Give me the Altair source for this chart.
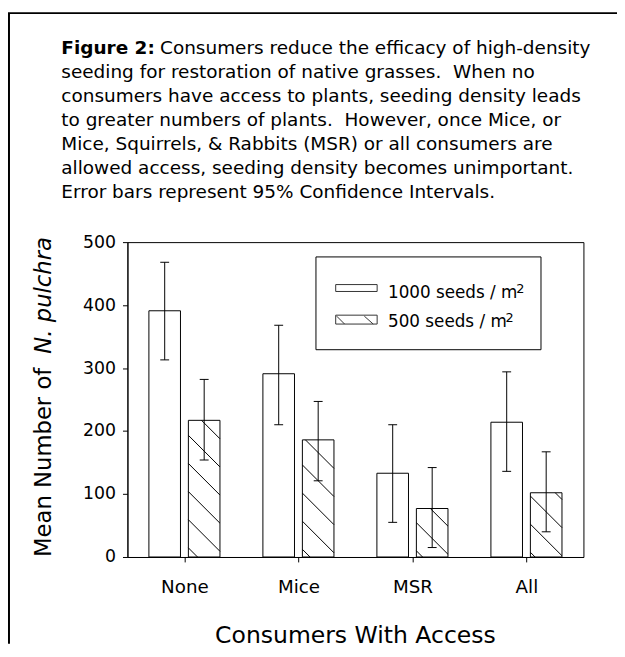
import math
import altair as alt
import pandas as pd

# ---------------- data ----------------
categories = ["None", "Mice", "MSR", "All"]
series_labels = ["1000 seeds / m", "500 seeds / m"]
mean_1000 = [391, 291, 133, 214]
lo_1000 = [313, 210, 55, 136]
hi_1000 = [468, 368, 210, 294]
mean_500 = [217, 186, 77, 102]
lo_500 = [154, 121, 15, 40]
hi_500 = [282, 247, 142, 167]
y_ticks = [0, 100, 200, 300, 400, 500]

caption_bold = "Figure 2:"
caption_first = "Consumers reduce the efficacy of high-density"
caption_lines = [
    "seeding for restoration of native grasses. \u00a0When no",
    "consumers have access to plants, seeding density leads",
    "to greater numbers of plants. \u00a0However, once Mice, or",
    "Mice, Squirrels, & Rabbits (MSR) or all consumers are",
    "allowed access, seeding density becomes unimportant.",
    "Error bars represent 95% Confidence Intervals.",
]
x_title = "Consumers With Access"
y_title_plain = "Mean Number of"
y_title_italic = "N. pulchra"

# ---------------- layout constants ----------------
FONT = "DejaVu Sans"
W, H = 462, 319
YMAX = 500
XMAX = len(categories)
PX_X = W / XMAX
PX_Y = H / YMAX
BAR_OUT = 36 / PX_X
BAR_IN = 4 / PX_X
CAP = 4.5 / PX_X

rows = []
for i, cat in enumerate(categories):
    c = i + 0.5
    rows.append(dict(cat=cat, series="1000", v=mean_1000[i], lo=lo_1000[i], hi=hi_1000[i],
                     u0=c - BAR_OUT, u1=c - BAR_IN))
    rows.append(dict(cat=cat, series="500", v=mean_500[i], lo=lo_500[i], hi=hi_500[i],
                     u0=c + BAR_IN, u1=c + BAR_OUT))
bars = pd.DataFrame(rows)
bars["uc"] = (bars["u0"] + bars["u1"]) / 2
bars["zero"] = 0

caps = []
for r in rows:
    uc = (r["u0"] + r["u1"]) / 2
    for yv in (r["lo"], r["hi"]):
        caps.append(dict(u0=uc - CAP, u1=uc + CAP, v=yv))
caps = pd.DataFrame(caps)

# hatch lines (45 deg in screen space) clipped to the 500-seed bars
STEP, PHASE = 28.5, 20.0
hatch = []
for r in rows:
    if r["series"] != "500":
        continue
    X0, X1 = r["u0"] * PX_X, r["u1"] * PX_X
    Yt, Yb = H - r["v"] * PX_Y, H
    cmin, cmax = Yt - X1, Yb - X0
    k = math.ceil((cmin - PHASE) / STEP)
    while PHASE + k * STEP <= cmax:
        cc = PHASE + k * STEP
        xa = max(X0, Yt - cc)
        xb = min(X1, Yb - cc)
        if xb - xa > 0.5:
            hatch.append(dict(u0=xa / PX_X, v0=(H - (xa + cc)) / PX_Y,
                              u1=xb / PX_X, v1=(H - (xb + cc)) / PX_Y))
        k += 1
hatch = pd.DataFrame(hatch)

one = alt.Data(values=[{"a": 1}])

xscale = alt.Scale(domain=[0, XMAX], nice=False, zero=False)
yscale = alt.Scale(domain=[0, YMAX], nice=False)

label_expr = "[" + ",".join("'%s'" % c for c in categories) + "][floor(datum.value)]"
xaxis = alt.Axis(values=[i + 0.5 for i in range(XMAX)], labelExpr=label_expr, title=None,
                 grid=False, tickSize=5, labelPadding=16, labelFont=FONT, labelFontSize=18.5,
                 labelColor="black", domainColor="black", tickColor="black", labelAngle=0)
yaxis = alt.Axis(values=y_ticks, title=None, grid=False, tickSize=5, labelPadding=7,
                 labelFont=FONT, labelFontSize=17.5, labelColor="black",
                 domainColor="black", tickColor="black")

bar_layer = alt.Chart(bars).mark_rect(fill="white", stroke="black", strokeWidth=1).encode(
    x=alt.X("u0:Q", scale=xscale, axis=xaxis),
    x2="u1:Q",
    y=alt.Y("v:Q", scale=yscale, axis=yaxis),
    y2="zero:Q",
)

hatch_layer = alt.Chart(hatch).mark_rule(color="black", strokeWidth=1).encode(
    x=alt.X("u0:Q", scale=xscale, axis=xaxis), x2="u1:Q",
    y=alt.Y("v0:Q", scale=yscale, axis=yaxis), y2="v1:Q",
)

err_layer = alt.Chart(bars).mark_rule(color="black", strokeWidth=1).encode(
    x=alt.X("uc:Q", scale=xscale, axis=xaxis),
    y=alt.Y("lo:Q", scale=yscale, axis=yaxis), y2="hi:Q",
)

cap_layer = alt.Chart(caps).mark_rule(color="black", strokeWidth=1).encode(
    x=alt.X("u0:Q", scale=xscale, axis=xaxis), x2="u1:Q",
    y=alt.Y("v:Q", scale=yscale, axis=yaxis),
)

# ---------------- decorations (pixel positions relative to plot origin) ----------------
def rule(x, y, x2=None, y2=None, color="black", width=1):
    enc = dict(x=alt.value(x), y=alt.value(y))
    if x2 is not None:
        enc["x2"] = alt.value(x2)
    if y2 is not None:
        enc["y2"] = alt.value(y2)
    return alt.Chart(one).mark_rule(color=color, strokeWidth=width).encode(**enc)

def text(t, x, y, size, weight="normal", style="normal", align="left", angle=0, lh=None):
    kw = dict(text=t, font=FONT, fontSize=size, fontWeight=weight, fontStyle=style,
              align=align, baseline="alphabetic", color="black")
    if angle:
        kw["angle"] = angle
    if lh:
        kw["lineHeight"] = lh
    return alt.Chart(one).mark_text(**kw).encode(x=alt.value(x), y=alt.value(y))

frame = [
    rule(-120, -232, y2=407, width=2),
    rule(-121, -232, x2=500, width=2),
]

LINE = 24.3
cap_y0 = -190.3
caption = [
    text(caption_bold, -67, cap_y0, 18.7, weight="bold"),
    text(caption_first, 33, cap_y0, 18.7),
    text(caption_lines, -67, cap_y0 + LINE, 18.7, lh=LINE),
]

legend_box = alt.Chart(one).mark_rect(fill="white", stroke="black", strokeWidth=1).encode(
    x=alt.value(191), x2=alt.value(419), y=alt.value(15), y2=alt.value(109))
sw1 = alt.Chart(one).mark_rect(fill="white", stroke="#333", strokeWidth=1).encode(
    x=alt.value(211), x2=alt.value(253), y=alt.value(43), y2=alt.value(50))
sw2 = alt.Chart(one).mark_rect(fill="white", stroke="#333", strokeWidth=1).encode(
    x=alt.value(211), x2=alt.value(253), y=alt.value(74), y2=alt.value(83))
legend = [
    legend_box, sw1, sw2,
    rule(212, 75, x2=220, y2=83, color="#333"),
    rule(240, 75, x2=249, y2=83, color="#333"),
    text(series_labels[0], 264, 57, 17),
    text("2", 394, 52, 13),
    text(series_labels[1], 264, 86, 17),
    text("2", 383, 81, 13),
]

titles = [
    text(x_title, 231, 406, 23.8, align="center"),
    text(y_title_plain, -77, 319, 23, angle=270),
    text(y_title_italic, -77, 113, 23, style="italic", angle=270),
]

chart = alt.layer(
    bar_layer, hatch_layer, err_layer, cap_layer, *frame, *caption, *legend, *titles
).properties(
    width=W, height=H,
    padding={"left": 121, "top": 233, "right": 34, "bottom": 88},
    autosize=alt.AutoSizeParams(type="none"),
    background="white",
).configure_view(stroke="black", strokeWidth=1)

chart.save("out.html", embed_options={"renderer": "svg", "actions": False})
